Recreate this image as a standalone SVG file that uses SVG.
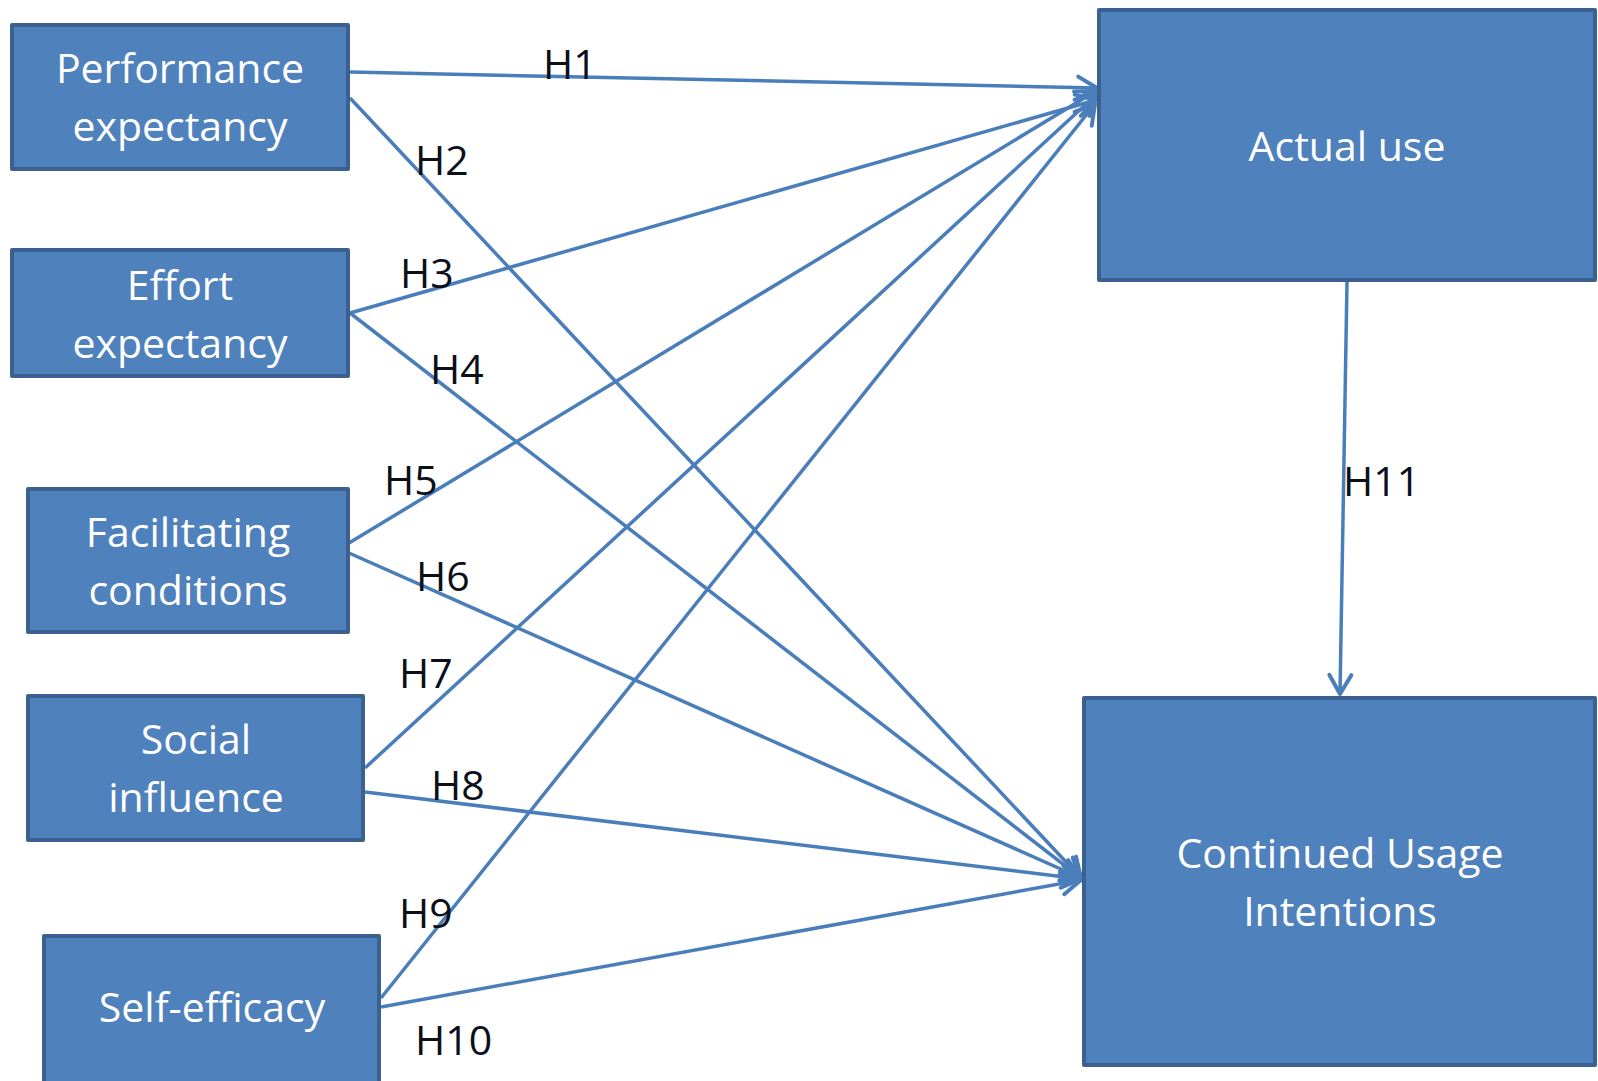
<svg xmlns="http://www.w3.org/2000/svg" width="1598" height="1081" viewBox="0 0 1598 1081">
  <style>
    .box { fill: #4f81bd; stroke: #3a6190; stroke-width: 4; stroke-linejoin: round; }
    .bt { font-family: "Open Sans", "Liberation Sans", sans-serif; font-size: 41px; fill: #ffffff; text-anchor: middle; }
    .lbl { font-family: "Open Sans", "Liberation Sans", sans-serif; font-size: 41px; fill: #0a0f1a; }
    .edge { stroke: #4a7ebb; stroke-width: 3.5; fill: none; marker-end: url(#arr); }
  </style>
  <defs>
    <marker id="arr" markerUnits="userSpaceOnUse" markerWidth="28" markerHeight="30" viewBox="-24 -15 28 30" refX="0" refY="0" orient="auto">
      <path d="M-19,-11 L0,0 L-19,11" fill="none" stroke="#4a7ebb" stroke-width="4" stroke-linecap="round" stroke-linejoin="round"/>
    </marker>
  </defs>
  <rect width="1598" height="1081" fill="#ffffff"/>

  <g id="connectors">
    <line class="edge" x1="350" y1="72" x2="1097" y2="88"/>
    <line class="edge" x1="350" y1="98" x2="1081" y2="878"/>
    <line class="edge" x1="350" y1="313" x2="1096" y2="100"/>
    <line class="edge" x1="350" y1="313" x2="1081" y2="878"/>
    <line class="edge" x1="349" y1="543" x2="1096" y2="91"/>
    <line class="edge" x1="349" y1="553" x2="1081" y2="878"/>
    <line class="edge" x1="365" y1="768" x2="1096" y2="95"/>
    <line class="edge" x1="365" y1="792" x2="1081" y2="879"/>
    <line class="edge" x1="381" y1="998" x2="1095" y2="104"/>
    <line class="edge" x1="381" y1="1007" x2="1081" y2="880"/>
    <line class="edge" x1="1347" y1="282" x2="1340" y2="694"/>
  </g>

  <g id="labels">
    <text class="lbl" x="543" y="79">H1</text>
    <text class="lbl" x="415" y="175">H2</text>
    <text class="lbl" x="400" y="288">H3</text>
    <text class="lbl" x="430" y="384">H4</text>
    <text class="lbl" x="384" y="495">H5</text>
    <text class="lbl" x="416" y="591">H6</text>
    <text class="lbl" x="399" y="688">H7</text>
    <text class="lbl" x="431" y="800">H8</text>
    <text class="lbl" x="399" y="928">H9</text>
    <text class="lbl" x="415" y="1055">H10</text>
    <text class="lbl" x="1343" y="496">H11</text>
  </g>

  <g id="performance-expectancy">
    <rect class="box" x="12" y="25" width="336" height="144"/>
    <text class="bt" x="180" y="83">Performance</text>
    <text class="bt" x="180" y="141">expectancy</text>
  </g>
  <g id="effort-expectancy">
    <rect class="box" x="12" y="250" width="336" height="126"/>
    <text class="bt" x="180" y="300">Effort</text>
    <text class="bt" x="180" y="358">expectancy</text>
  </g>
  <g id="facilitating-conditions">
    <rect class="box" x="28" y="489" width="320" height="143"/>
    <text class="bt" x="188" y="547">Facilitating</text>
    <text class="bt" x="188" y="605">conditions</text>
  </g>
  <g id="social-influence">
    <rect class="box" x="28" y="696" width="335" height="144"/>
    <text class="bt" x="196" y="754">Social</text>
    <text class="bt" x="196" y="812">influence</text>
  </g>
  <g id="self-efficacy">
    <rect class="box" x="44" y="936" width="335" height="160"/>
    <text class="bt" x="212" y="1022">Self-efficacy</text>
  </g>
  <g id="actual-use">
    <rect class="box" x="1099" y="10" width="496" height="270"/>
    <text class="bt" x="1347" y="161">Actual use</text>
  </g>
  <g id="continued-usage-intentions">
    <rect class="box" x="1084" y="698" width="511" height="367"/>
    <text class="bt" x="1340" y="868">Continued Usage</text>
    <text class="bt" x="1340" y="926">Intentions</text>
  </g>
</svg>
